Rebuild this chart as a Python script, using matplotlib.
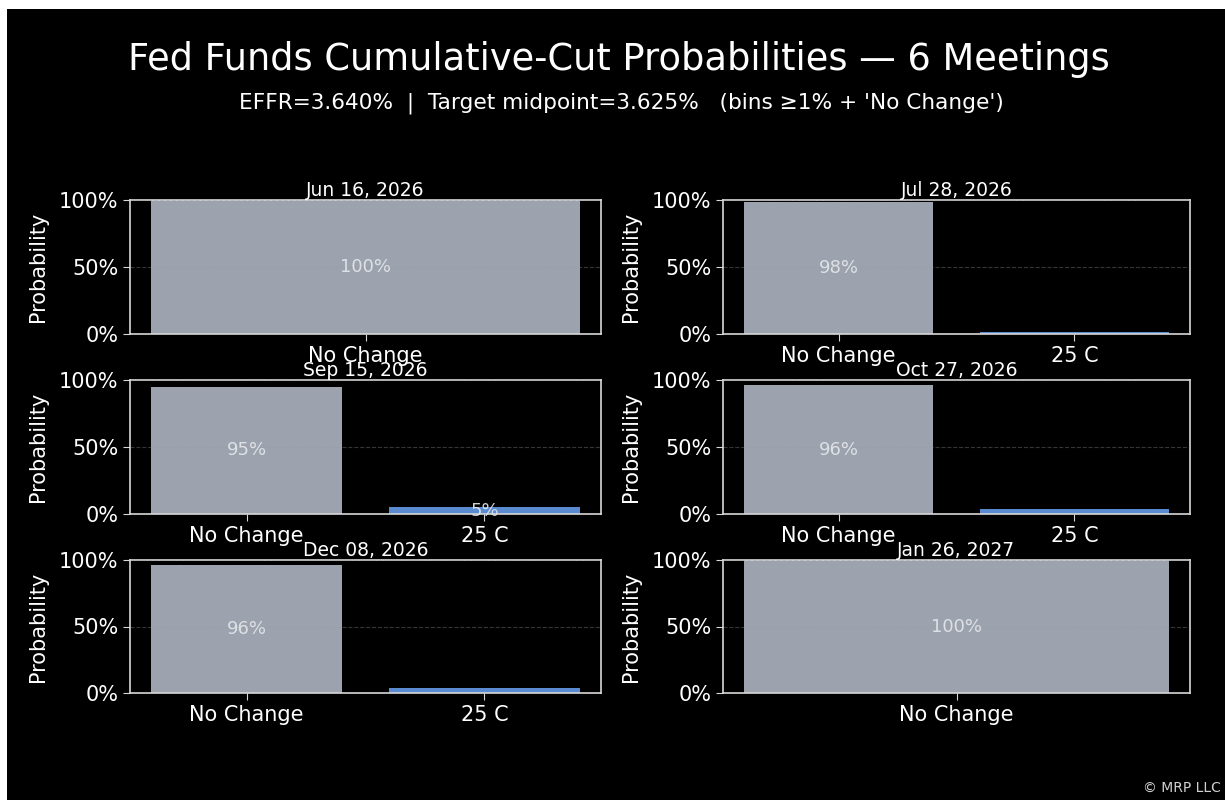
import matplotlib
matplotlib.use("Agg")
import matplotlib.pyplot as plt
from matplotlib.patches import Rectangle
from matplotlib.ticker import FuncFormatter

meetings = ["Jun 16, 2026", "Jul 28, 2026", "Sep 15, 2026",
            "Oct 27, 2026", "Dec 08, 2026", "Jan 26, 2027"]
bins = [["No Change"], ["No Change", "25 C"], ["No Change", "25 C"],
        ["No Change", "25 C"], ["No Change", "25 C"], ["No Change"]]
probs = [[100.0], [98.4, 1.6], [95.0, 5.0], [96.0, 4.0], [96.0, 4.0], [100.0]]

GRAY = "#9ca3af"
BLUE = "#5a8bd0"
W, H = 1225, 800

fig = plt.figure(figsize=(W / 100, H / 100), dpi=100, facecolor="white")
# black canvas with the thin white margin seen top and left
fig.patches.append(Rectangle((7 / W, 0), 1, 1 - 9 / H, transform=fig.transFigure,
                             facecolor="black", edgecolor="none", zorder=-10))

fig.text(0.505, 1 - 59 / H, "Fed Funds Cumulative-Cut Probabilities — 6 Meetings",
         ha="center", va="center", color="white", fontsize=26.5)
fig.text(0.507, 1 - 103 / H,
         "EFFR=3.640%  |  Target midpoint=3.625%   (bins ≥1% + 'No Change')",
         ha="center", va="center", color="white", fontsize=15.6)
fig.text(1221 / W, 1 - 788 / H, "© MRP LLC", ha="right", va="center",
         color="#d0d0d0", fontsize=10)

cols = [(130, 601), (723, 1190)]
rows = [(200, 334), (380, 514), (560, 693)]

for i, (title, labels, vals) in enumerate(zip(meetings, bins, probs)):
    x0, x1 = cols[i % 2]
    y0, y1 = rows[i // 2]
    ax = fig.add_axes([x0 / W, 1 - y1 / H, (x1 - x0) / W, (y1 - y0) / H])
    ax.set_facecolor("black")
    colors = [GRAY if lab == "No Change" else BLUE for lab in labels]
    xs = list(range(len(labels)))
    ax.bar(xs, vals, width=0.8, color=colors, zorder=2)
    for x, v in zip(xs, vals):
        if v >= 5:
            ax.text(x, v / 2, f"{v:.0f}%", ha="center", va="center",
                    color="#e5e7eb", fontsize=13, alpha=0.9, zorder=4)
    ax.set_ylim(0, 100)
    ax.set_yticks([0, 50, 100])
    ax.yaxis.set_major_formatter(FuncFormatter(lambda v, p: f"{v:.0f}%"))
    ax.set_xticks(xs)
    ax.set_xticklabels(labels)
    ax.tick_params(colors="#d8d8d8", labelcolor="white", labelsize=15, length=5)
    ax.set_ylabel("Probability", color="white", fontsize=15, labelpad=8)
    ax.set_title(title, color="white", fontsize=13.5, pad=1)
    ax.grid(axis="y", color="#9a9a9a", ls="--", lw=0.8, alpha=0.35, zorder=3)
    ax.set_axisbelow(False)
    for s in ax.spines.values():
        s.set_color("#d8d8d8")
        s.set_linewidth(1.2)

fig.savefig("out.png", dpi=100, facecolor=fig.get_facecolor())
